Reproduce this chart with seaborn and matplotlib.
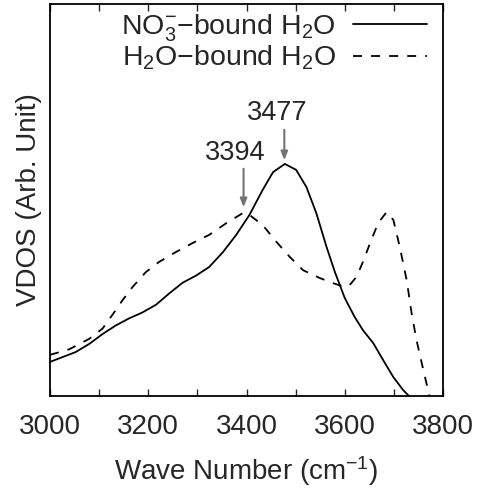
import numpy as np
import pandas as pd
import matplotlib
matplotlib.use("Agg")
import matplotlib.pyplot as plt
from matplotlib.lines import Line2D
import seaborn as sns

# Data (arbitrary units)
wn_no3 = [3000, 3025, 3052, 3080, 3107, 3134, 3161, 3188, 3216, 3243, 3270, 3297, 3324,
          3352, 3379, 3406, 3433, 3454, 3478, 3501, 3522, 3542, 3563, 3580, 3600, 3620,
          3637, 3658, 3678, 3699, 3719, 3733, 3750]
vdos_no3 = [0.087, 0.099, 0.112, 0.133, 0.158, 0.180, 0.198, 0.213, 0.233, 0.262, 0.289, 0.307, 0.329,
            0.367, 0.411, 0.462, 0.526, 0.571, 0.592, 0.577, 0.533, 0.467, 0.380, 0.316, 0.250, 0.202,
            0.168, 0.135, 0.092, 0.048, 0.015, -0.003, -0.036]

wn_h2o = [3000, 3039, 3080, 3107, 3127, 3148, 3168, 3195, 3222, 3256, 3290, 3324, 3359, 3393,
          3406, 3433, 3461, 3488, 3515, 3549, 3576, 3600, 3610, 3624, 3637, 3654, 3668, 3685,
          3699, 3712, 3726, 3736, 3746, 3760, 3773, 3785]
vdos_h2o = [0.105, 0.119, 0.146, 0.172, 0.207, 0.245, 0.278, 0.316, 0.342, 0.367, 0.390, 0.411, 0.441, 0.467,
            0.462, 0.436, 0.393, 0.355, 0.321, 0.301, 0.288, 0.278, 0.283, 0.304, 0.342, 0.398, 0.441, 0.469,
            0.449, 0.380, 0.296, 0.212, 0.143, 0.066, -0.003, -0.074]

series_labels = ["NO$_3^{-}$\u2212bound H$_2$O", "H$_2$O\u2212bound H$_2$O"]
peak_positions = [3477, 3394]
peak_labels = ["3477", "3394"]
xticks = [3000, 3200, 3400, 3600, 3800]

df = pd.concat([
    pd.DataFrame({"wn": wn_no3, "vdos": vdos_no3, "series": series_labels[0]}),
    pd.DataFrame({"wn": wn_h2o, "vdos": vdos_h2o, "series": series_labels[1]}),
], ignore_index=True)

sns.set_style("white")
plt.rcParams["font.family"] = ["Liberation Sans", "DejaVu Sans"]
plt.rcParams["mathtext.fontset"] = "custom"
plt.rcParams["mathtext.rm"] = "Liberation Sans"
plt.rcParams["mathtext.it"] = "Liberation Sans:italic"
plt.rcParams["mathtext.bf"] = "Liberation Sans:bold"
plt.rcParams["mathtext.default"] = "regular"

fig = plt.figure(figsize=(4.78, 4.88), dpi=100)
ax = fig.add_axes([50 / 478, 1 - 396 / 488, 393 / 478, 392 / 488])

sns.lineplot(data=df, x="wn", y="vdos", style="series", hue="series",
             palette=["black", "black"], dashes=[(1, 0), (5, 5)],
             linewidth=1.3, ax=ax, legend=False, sort=False)

ax.set_xlim(3000, 3800)
ax.set_ylim(0, 1.0)
ax.set_xticks(xticks)
ax.set_xticks(np.arange(3100, 3800, 200), minor=True)
ax.set_yticks([])
ax.tick_params(axis="x", which="both", direction="in", top=True, bottom=True,
               length=5, width=1, labelsize=20, pad=13)
for s in ax.spines.values():
    s.set_linewidth(1.3)
    s.set_color("black")

ax.set_xlabel("Wave Number (cm$^{-1}$)", fontsize=20, labelpad=10)
ax.set_ylabel("VDOS (Arb. Unit)", fontsize=20, labelpad=6)

# Peak annotations
def v(ypix):
    return (396 - ypix) / 392

ax.annotate("", xy=(peak_positions[0], v(163)), xytext=(peak_positions[0], v(127)),
            arrowprops=dict(arrowstyle="-|>,head_length=0.5,head_width=0.2", color="0.45", lw=1.5))
ax.text(3463, v(113), peak_labels[0], ha="center", va="center", fontsize=19.5)
ax.annotate("", xy=(peak_positions[1], v(210)), xytext=(peak_positions[1], v(166)),
            arrowprops=dict(arrowstyle="-|>,head_length=0.5,head_width=0.2", color="0.45", lw=1.5))
ax.text(3376, v(153), peak_labels[1], ha="center", va="center", fontsize=19.5)

handles = [Line2D([], [], color="black", lw=1.3),
           Line2D([], [], color="black", lw=1.3, dashes=(5, 5))]
fig.legend(handles, series_labels, loc="upper right",
           bbox_to_anchor=(427 / 478, 1 - 12 / 488), bbox_transform=fig.transFigure,
           frameon=False, markerfirst=False, fontsize=20.5, handlelength=2.6,
           handletextpad=0.6, labelspacing=0.0, borderpad=0, borderaxespad=0)

fig.savefig("out.png", dpi=100)
